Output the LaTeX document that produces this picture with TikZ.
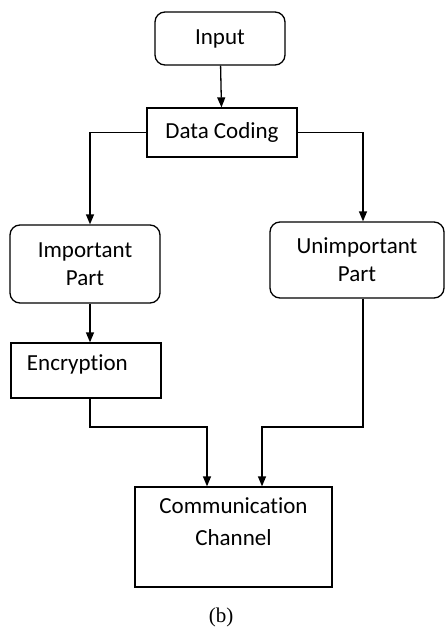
\documentclass[tikz,border=0pt]{standalone}
\usepackage{fontspec}
\setmainfont{Carlito}[Ligatures=NoCommon]
\newfontfamily\capfont{Liberation Serif}
\usetikzlibrary{arrows.meta}

\tikzset{
  caja/.style={draw, line width=1.3pt, inner sep=0pt, align=center,
    font=\fontsize{23}{28}\selectfont},
  cajar/.style={caja, rounded corners=10pt},
  flecha/.style={line width=1.3pt, -{Triangle[width=8pt,length=10pt]}}
}

\begin{document}
\begin{tikzpicture}[x=1pt, y=-1pt]
        % Fondo
        \fill[white] (0,0) rectangle (446,631);
        \useasboundingbox (0,0) rectangle (446,631);

        % Cajas
        \node[cajar, minimum width=130, minimum height=53] (input) at (220,38.5) {Input};
        \node[caja, minimum width=150, minimum height=49] (coding) at (222,132.5) {Data Coding};
        \node[cajar, minimum width=150, minimum height=78] (imp) at (85,264) {Important\\Part};
        \node[cajar, minimum width=174, minimum height=76] (unimp) at (357,260) {Unimportant\\Part};
        \node[caja, text width=118pt, inner xsep=16pt, align=left, minimum height=55,
              text depth=16pt] (enc) at (86,370.5) {Encryption};
        \node[caja, minimum width=197, minimum height=100, font=\fontsize{23}{32}\selectfont,
              text depth=30pt] (canal) at (233.5,537) {Communication\\Channel};

        % Puntos de giro
        \coordinate (g1) at (207,427);
        \coordinate (g2) at (262,427);

        % Flechas
        \draw[flecha] (input) -- (coding);
        \draw[flecha] (coding.west) -| ([xshift=5pt]imp.north);
        \draw[flecha] (coding.east) -| ([xshift=6pt]unimp.north);
        \draw[flecha] ([xshift=5pt]imp.south) -- ([xshift=4pt]enc.north);
        \draw[flecha] ([xshift=4pt]enc.south) |- (g1) -- (g1 |- canal.north);
        \draw[flecha] ([xshift=6pt]unimp.south) |- (g2) -- (g2 |- canal.north);

        % Etiqueta
        \node[font=\capfont\fontsize{21}{24}\selectfont] (cap) at (221,617) {(b)};
\end{tikzpicture}
\end{document}
